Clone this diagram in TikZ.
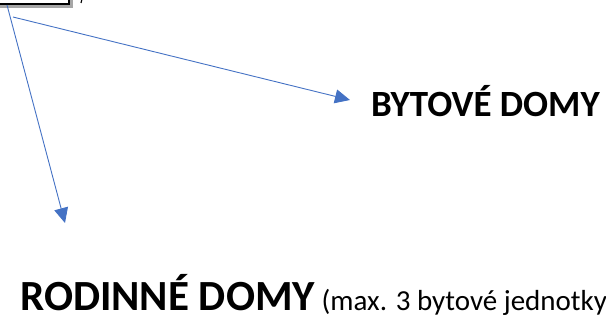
\documentclass[tikz,border=0pt]{standalone}
\usepackage{fontspec}
\setmainfont{Carlito}
\usetikzlibrary{arrows.meta, positioning}
\definecolor{arrowblue}{HTML}{4472C4}
\tikzset{
pointer/.style={draw=arrowblue, line width=0.9pt, -{Triangle[length=15pt, width=14pt]}, arrowblue}, % blue arrows
label big/.style={inner sep=0pt, anchor=base west, font=\fontsize{37}{42}\selectfont\bfseries}, % bold titles
}

\begin{document}
\begin{tikzpicture}[x=1pt, y=-1pt]
        \useasboundingbox (0,0) rectangle (606,320);

        % cropped box at the top
        \fill[black!35] (-20,-40) rectangle (73,8);
        \draw[line width=2.8pt, fill=white] (-20,-40) rectangle (69,4);
        \draw[line width=1.2pt] (82,-1) -- (81,3);

        \coordinate (start1) at (7,5);
        \coordinate (start2) at (13,17);

        % labels
        \node[label big] (bytove) at (371,117) {BYTOVÉ DOMY};
        \node[label big, font=\fontsize{43}{48}\selectfont\bfseries] (rodinne) at (20,311)
            {RODINNÉ DOMY\fontsize{29}{34}\selectfont\mdseries\ (max. 3 bytové jednotky};

        \coordinate (tip1) at (65,223);
        \coordinate (tip2) at (350,100);

        \draw[pointer] (start1) -- (tip1);
        \draw[pointer] (start2) -- (tip2);
    \end{tikzpicture}
\end{document}
